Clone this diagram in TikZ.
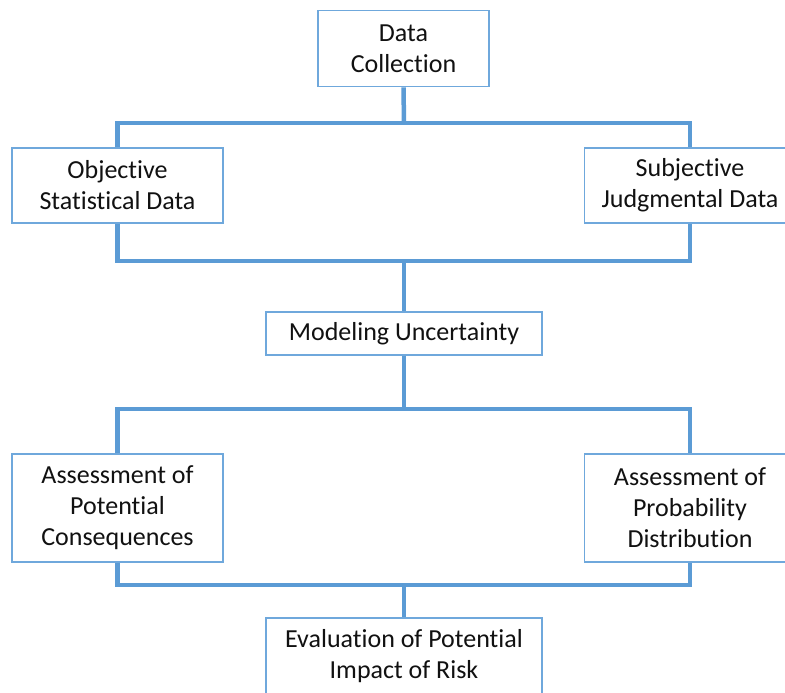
\documentclass[tikz,border=0pt]{standalone}
\usepackage{fontspec}
\setmainfont{Carlito}[Ligatures=NoCommon]
\definecolor{conncol}{HTML}{5B9BD5}
\definecolor{boxcol}{HTML}{6FA8DC}
\definecolor{txtcol}{HTML}{111111}
\begin{document}
\begin{tikzpicture}[x=1pt,y=-1pt,
  box/.style={draw=boxcol,line width=1.6pt,fill=white,rectangle,inner sep=0pt,
    align=center,text=txtcol,font=\fontsize{26}{31}\selectfont},
  conn/.style={draw=conncol,line width=4.5pt,line join=miter}]
\useasboundingbox (0,0) rectangle (785,693);
\clip (0,0) rectangle (785,693);
\fill[white] (0,0) rectangle (785,693);
\coordinate (b1) at (404,123);
\coordinate (b2) at (404,261);
\coordinate (b3) at (404,409);
\coordinate (b4) at (404,585);
\node[box,minimum width=171pt,minimum height=76pt] (dc) at (403.5,48.5) {Data\\Collection};
\node[box,minimum width=211pt,minimum height=75pt] (obj) at (117.5,185.5) {Objective\\Statistical Data};
\node[box,minimum width=211pt,minimum height=75pt] (subj) at (690,185.5) {Subjective\\Judgmental Data};
\node[box,minimum width=276pt,minimum height=43pt] (mod) at (404,333.5) {Modeling Uncertainty};
\node[box,minimum width=211pt,minimum height=108pt] (apc) at (117.5,508) {Assessment of\\Potential\\Consequences};
\node[box,minimum width=211pt,minimum height=108pt] (apd) at (690,508) {Assessment of\\Probability\\Distribution};
\node[box,minimum width=276pt,minimum height=76pt] (ev) at (404,656) {Evaluation of Potential\\Impact of Risk};
\draw[conn] (dc.south) -- (b1);
\draw[conn] (obj.north) |- (b1) -| (subj.north);
\draw[conn] (obj.south) |- (b2) -| (subj.south);
\draw[conn] (b2) -- (mod.north);
\draw[conn] (mod.south) -- (b3);
\draw[conn] (apc.north) |- (b3) -| (apd.north);
\draw[conn] (apc.south) |- (b4) -| (apd.south);
\draw[conn] (b4) -- (ev.north);
\end{tikzpicture}
\end{document}
